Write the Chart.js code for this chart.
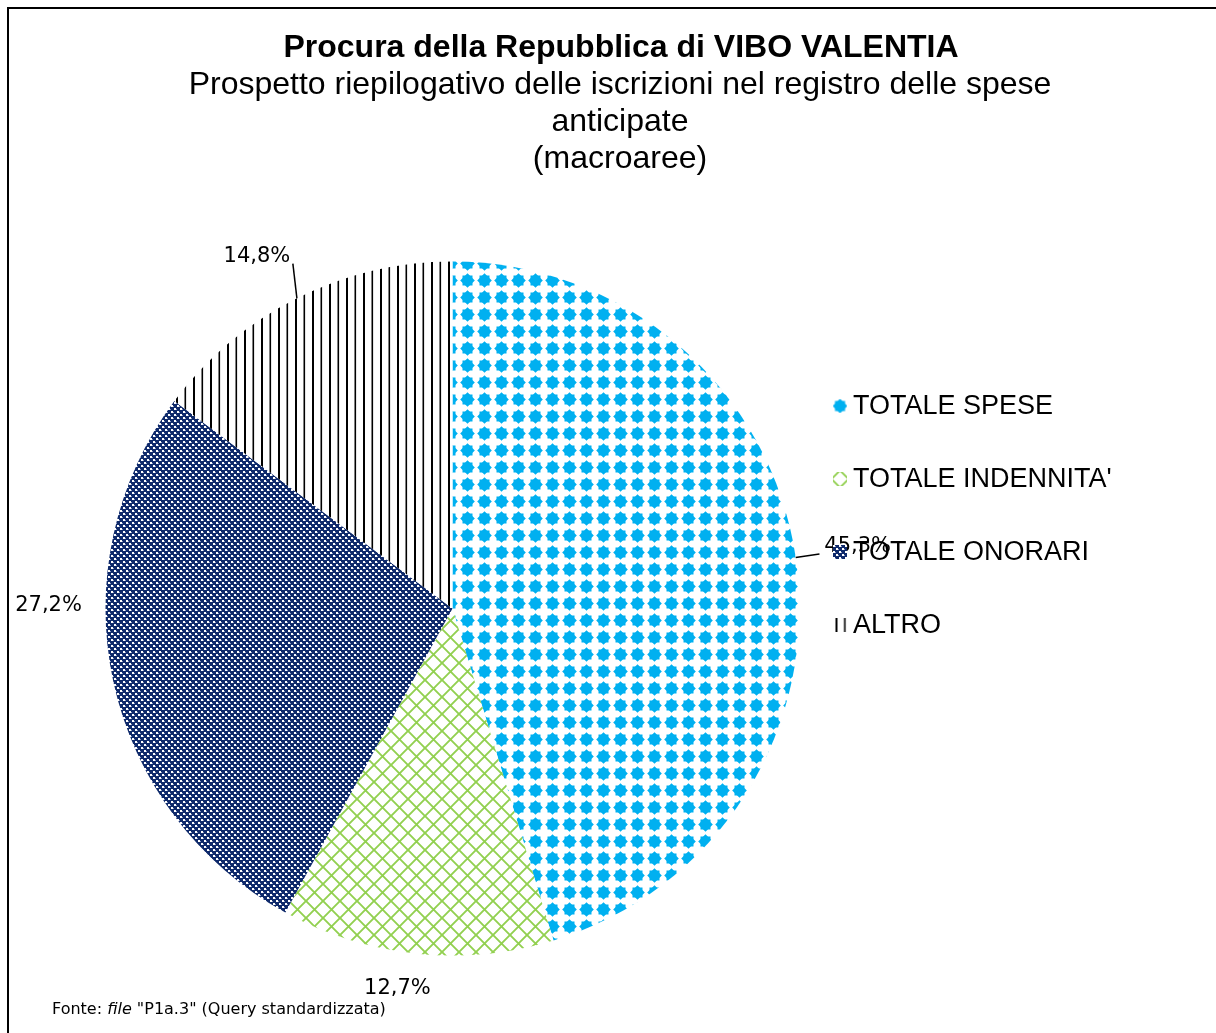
<!DOCTYPE html>
<html>
<head>
<meta charset="utf-8">
<script src="https://cdn.jsdelivr.net/npm/chart.js@4.4.0/dist/chart.umd.min.js"></script>
<style>
  html, body { margin: 0; padding: 0; background: #fff; }
  canvas { display: block; }
</style>
</head>
<body>
<canvas id="pieChart" width="1216" height="1033"></canvas>
<script>
// dati
const categories = ['TOTALE SPESE', "TOTALE INDENNITA'", 'TOTALE ONORARI', 'ALTRO'];
const values = [45.3, 12.7, 27.2, 14.8];
const titleText = 'Procura della Repubblica di VIBO VALENTIA';
const subtitleLines = ['Prospetto riepilogativo delle iscrizioni nel registro delle spese', 'anticipate', '(macroaree)'];

// where each percentage goes: angle shift (deg) and distance from centre; optional leader line
const labelPlace = [
    {da: -0.3, dist: 410, lead: {r0: 347, r1: 371, da: 0}},
    {da: 2.3, dist: 384},
    {da: 12.7, dist: 404},
    {da: -2.4, dist: 403, lead: {r0: 347, r1: 380, da: 1.8}}
];
// offset of the pattern inside each legend marker
const markerShift = [[1.5, 1.5], [1.5, 10], [0, 0], [3.5, 0]];

function tile(size, draw) {
    const c = document.createElement('canvas');
    c.width = size;
    c.height = size;
    const x = c.getContext('2d');
    draw(x, size);
    return c;
}

const ctx = document.getElementById('pieChart').getContext('2d');

const patSpese = ctx.createPattern(tile(17, function (x) {
    x.fillStyle = '#fff';
    x.fillRect(0, 0, 17, 17);
    x.fillStyle = '#00b0f0';
    x.beginPath();
    x.moveTo(8.5, 1.2);
    x.lineTo(15.8, 8.5);
    x.lineTo(8.5, 15.8);
    x.lineTo(1.2, 8.5);
    x.closePath();
    x.fill();
    x.fillRect(3.5, 3.5, 10, 10);
}), 'repeat');

const patIndennita = ctx.createPattern(tile(17, function (x) {
    x.fillStyle = '#fff';
    x.fillRect(0, 0, 17, 17);
    x.strokeStyle = '#92d050';
    x.lineWidth = 1.9;
    [-17, 0, 17].forEach(o => {
        x.beginPath();
        x.moveTo(o, 0); x.lineTo(o + 17, 17);
        x.moveTo(o + 17, 0); x.lineTo(o, 17);
        x.stroke();
    });
}), 'repeat');

const patOnorari = ctx.createPattern(tile(6, function (x) {
    x.fillStyle = '#0f2a6b';
    x.fillRect(0, 0, 6, 6);
    x.fillStyle = '#ffffff';
    x.fillRect(0, 0, 2, 2);
    x.fillRect(3, 3, 2, 2);
    x.fillStyle = '#8a98c2';
    x.fillRect(2, 1, 1, 1);
    x.fillRect(5, 4, 1, 1);
}), 'repeat');

const patAltro = ctx.createPattern(tile(17, function (x) {
    x.fillStyle = '#fff';
    x.fillRect(0, 0, 17, 17);
    x.fillStyle = '#000';
    x.fillRect(6, 0, 2, 17);
    x.fillRect(14.5, 0, 1.6, 17);
}), 'repeat');

const patterns = [patSpese, patIndennita, patOnorari, patAltro];

const frame = {
    id: 'frame',
    beforeDraw(chart) {
        const c = chart.ctx;
        c.save();
        c.fillStyle = '#fff';
        c.fillRect(0, 0, chart.width, chart.height);
        c.fillStyle = '#000';
        c.fillRect(7, 7, 2, chart.height);
        c.fillRect(7, 7, chart.width, 2);
        c.restore();
    }
};

const texts = {
    id: 'texts',
    afterDatasetsDraw(chart) {
        const c = chart.ctx;
        const meta = chart.getDatasetMeta(0);
        c.save();

        // titolo
        c.fillStyle = '#000';
        c.textAlign = 'center';
        c.textBaseline = 'alphabetic';
        c.font = 'bold 32px "Liberation Sans", Arial, sans-serif';
        c.fillText(titleText, 621, 57);
        c.font = '32px "Liberation Sans", Arial, sans-serif';
        subtitleLines.forEach((l, i) => c.fillText(l, 620, 94 + i * 37));

        // percentuali
        c.font = '21px "DejaVu Sans", Verdana, sans-serif';
        c.textBaseline = 'middle';
        c.strokeStyle = '#000';
        c.lineWidth = 1.5;
        meta.data.forEach((arc, i) => {
            const p = labelPlace[i];
            const mid = (arc.startAngle + arc.endAngle) / 2;
            const a = mid + p.da * Math.PI / 180;
            if (p.lead) {
                const a2 = mid + p.lead.da * Math.PI / 180;
                c.beginPath();
                c.moveTo(arc.x + p.lead.r0 * Math.cos(mid), arc.y + p.lead.r0 * Math.sin(mid));
                c.lineTo(arc.x + p.lead.r1 * Math.cos(a2), arc.y + p.lead.r1 * Math.sin(a2));
                c.stroke();
            }
            const txt = values[i].toFixed(1).replace('.', ',') + '%';
            c.fillText(txt, arc.x + p.dist * Math.cos(a), arc.y + p.dist * Math.sin(a));
        });

        // legenda
        c.textAlign = 'left';
        c.font = '27px "Liberation Sans", Arial, sans-serif';
        categories.forEach((name, i) => {
            const y = 406 + i * 73;
            const s = markerShift[i];
            c.save();
            c.translate(833 - s[0], y - 7 - s[1]);
            c.fillStyle = patterns[i];
            c.fillRect(s[0], s[1], 14, 14);
            c.restore();
            c.fillStyle = '#000';
            c.fillText(name, 853, y + 1);
        });

        // fonte
        c.textBaseline = 'alphabetic';
        c.font = '16px "DejaVu Sans", Verdana, sans-serif';
        let x = 52;
        c.fillText('Fonte: ', x, 1014);
        x += c.measureText('Fonte: ').width;
        c.font = 'italic 16px "DejaVu Sans", Verdana, sans-serif';
        c.fillText('file', x, 1014);
        x += c.measureText('file').width;
        c.font = '16px "DejaVu Sans", Verdana, sans-serif';
        c.fillText(' "P1a.3" (Query standardizzata)', x, 1014);

        c.restore();
    }
};

const pieChart = new Chart(ctx, {
    type: 'pie',
    data: {
        labels: categories,
        datasets: [
            {
                data: values,
                backgroundColor: patterns,
                borderWidth: 0,
                radius: 347
            }
        ]
    },
    options: {
        responsive: false,
        animation: false,
        layout: {padding: {left: 0, right: 311, top: 184, bottom: 0}},
        plugins: {
            legend: {display: false},
            tooltip: {enabled: false},
            title: {display: false}
        }
    },
    plugins: [frame, texts]
});
</script>
</body>
</html>
